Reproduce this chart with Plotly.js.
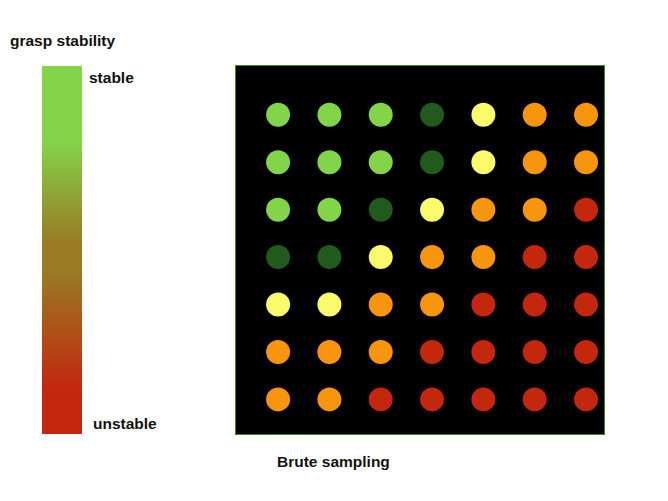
<!DOCTYPE html>
<html>
<head>
<meta charset="utf-8">
<script src="https://cdn.plot.ly/plotly-3.0.1.min.js"></script>
<style>
  html, body { margin: 0; padding: 0; background: #fff; }
  #chart { width: 668px; height: 501px; }
</style>
</head>
<body>
<div id="chart"></div>
<script>
// grid columns / rows (row 7 is the top row)
const columns = [1, 2, 3, 4, 5, 6, 7];
const rows = [7, 6, 5, 4, 3, 2, 1];

// stability class per cell, top row first
const stabilityGrid = [
  ['G', 'G', 'G', 'D', 'Y', 'O', 'O'],
  ['G', 'G', 'G', 'D', 'Y', 'O', 'O'],
  ['G', 'G', 'D', 'Y', 'O', 'O', 'R'],
  ['D', 'D', 'Y', 'O', 'O', 'R', 'R'],
  ['Y', 'Y', 'O', 'O', 'R', 'R', 'R'],
  ['O', 'O', 'O', 'R', 'R', 'R', 'R'],
  ['O', 'O', 'R', 'R', 'R', 'R', 'R']
];

const classColors = {
  G: '#84d44a',
  D: '#215a1d',
  Y: '#fafa6a',
  O: '#f7950f',
  R: '#c3270e'
};

// grasp stability legend bar: stops from unstable (0) to stable (1)
const scaleStops = [0, 0.12, 0.44, 0.52, 0.8, 1];
const scaleColors = ['#c3270e', '#c3270e', '#9a7a24', '#9a7a24', '#84d44a', '#84d44a'];
const scaleLevels = [0, 1];

const W = 668, H = 501;
const px = v => v / W;
const py = v => 1 - v / H;

const xs = [], ys = [], colors = [];
stabilityGrid.forEach((row, r) => {
  row.forEach((c, i) => {
    xs.push(columns[i]);
    ys.push(rows[r]);
    colors.push(classColors[c]);
  });
});

const dots = {
  type: 'scatter',
  mode: 'markers',
  x: xs,
  y: ys,
  marker: {size: 24, color: colors, line: {width: 0}},
  hoverinfo: 'skip',
  xaxis: 'x',
  yaxis: 'y'
};

const legendBar = {
  type: 'heatmap',
  x: [0, 1],
  y: scaleLevels,
  z: [[scaleLevels[0], scaleLevels[0]], [scaleLevels[1], scaleLevels[1]]],
  zmin: 0,
  zmax: 1,
  zsmooth: 'best',
  colorscale: scaleStops.map((s, i) => [s, scaleColors[i]]),
  showscale: false,
  hoverinfo: 'skip',
  xaxis: 'x2',
  yaxis: 'y2'
};

const textFont = {family: 'Liberation Sans, Arial, sans-serif', size: 15.5, color: '#111'};
const label = (text, x, y) => ({
  text: '<b>' + text + '</b>', xref: 'paper', yref: 'paper',
  x: px(x), y: py(y), xanchor: 'left', yanchor: 'middle',
  showarrow: false, font: textFont
});

const layout = {
  width: W,
  height: H,
  margin: {l: 0, r: 0, t: 0, b: 0},
  paper_bgcolor: '#fff',
  plot_bgcolor: '#000',
  showlegend: false,
  xaxis: {
    domain: [px(236), px(604)],
    range: [0.18, 7.35],
    showgrid: false, zeroline: false, showticklabels: false, ticks: '',
    showline: true, mirror: true, linecolor: '#3f8a1c', linewidth: 1
  },
  yaxis: {
    domain: [py(434), py(66)],
    range: [0.27, 8.03],
    showgrid: false, zeroline: false, showticklabels: false, ticks: '',
    showline: true, mirror: true, linecolor: '#3f8a1c', linewidth: 1
  },
  xaxis2: {
    domain: [px(42), px(82)],
    range: [0, 1],
    visible: false, fixedrange: true
  },
  yaxis2: {
    domain: [py(434), py(66)],
    range: [0, 1],
    visible: false, fixedrange: true
  },
  annotations: [
    label('grasp stability', 8, 41),
    label('stable', 87, 77),
    label('unstable', 91, 423),
    label('Brute sampling', 275, 461)
  ]
};

Plotly.newPlot('chart', [legendBar, dots], layout, {displayModeBar: false, staticPlot: true});
</script>
</body>
</html>
